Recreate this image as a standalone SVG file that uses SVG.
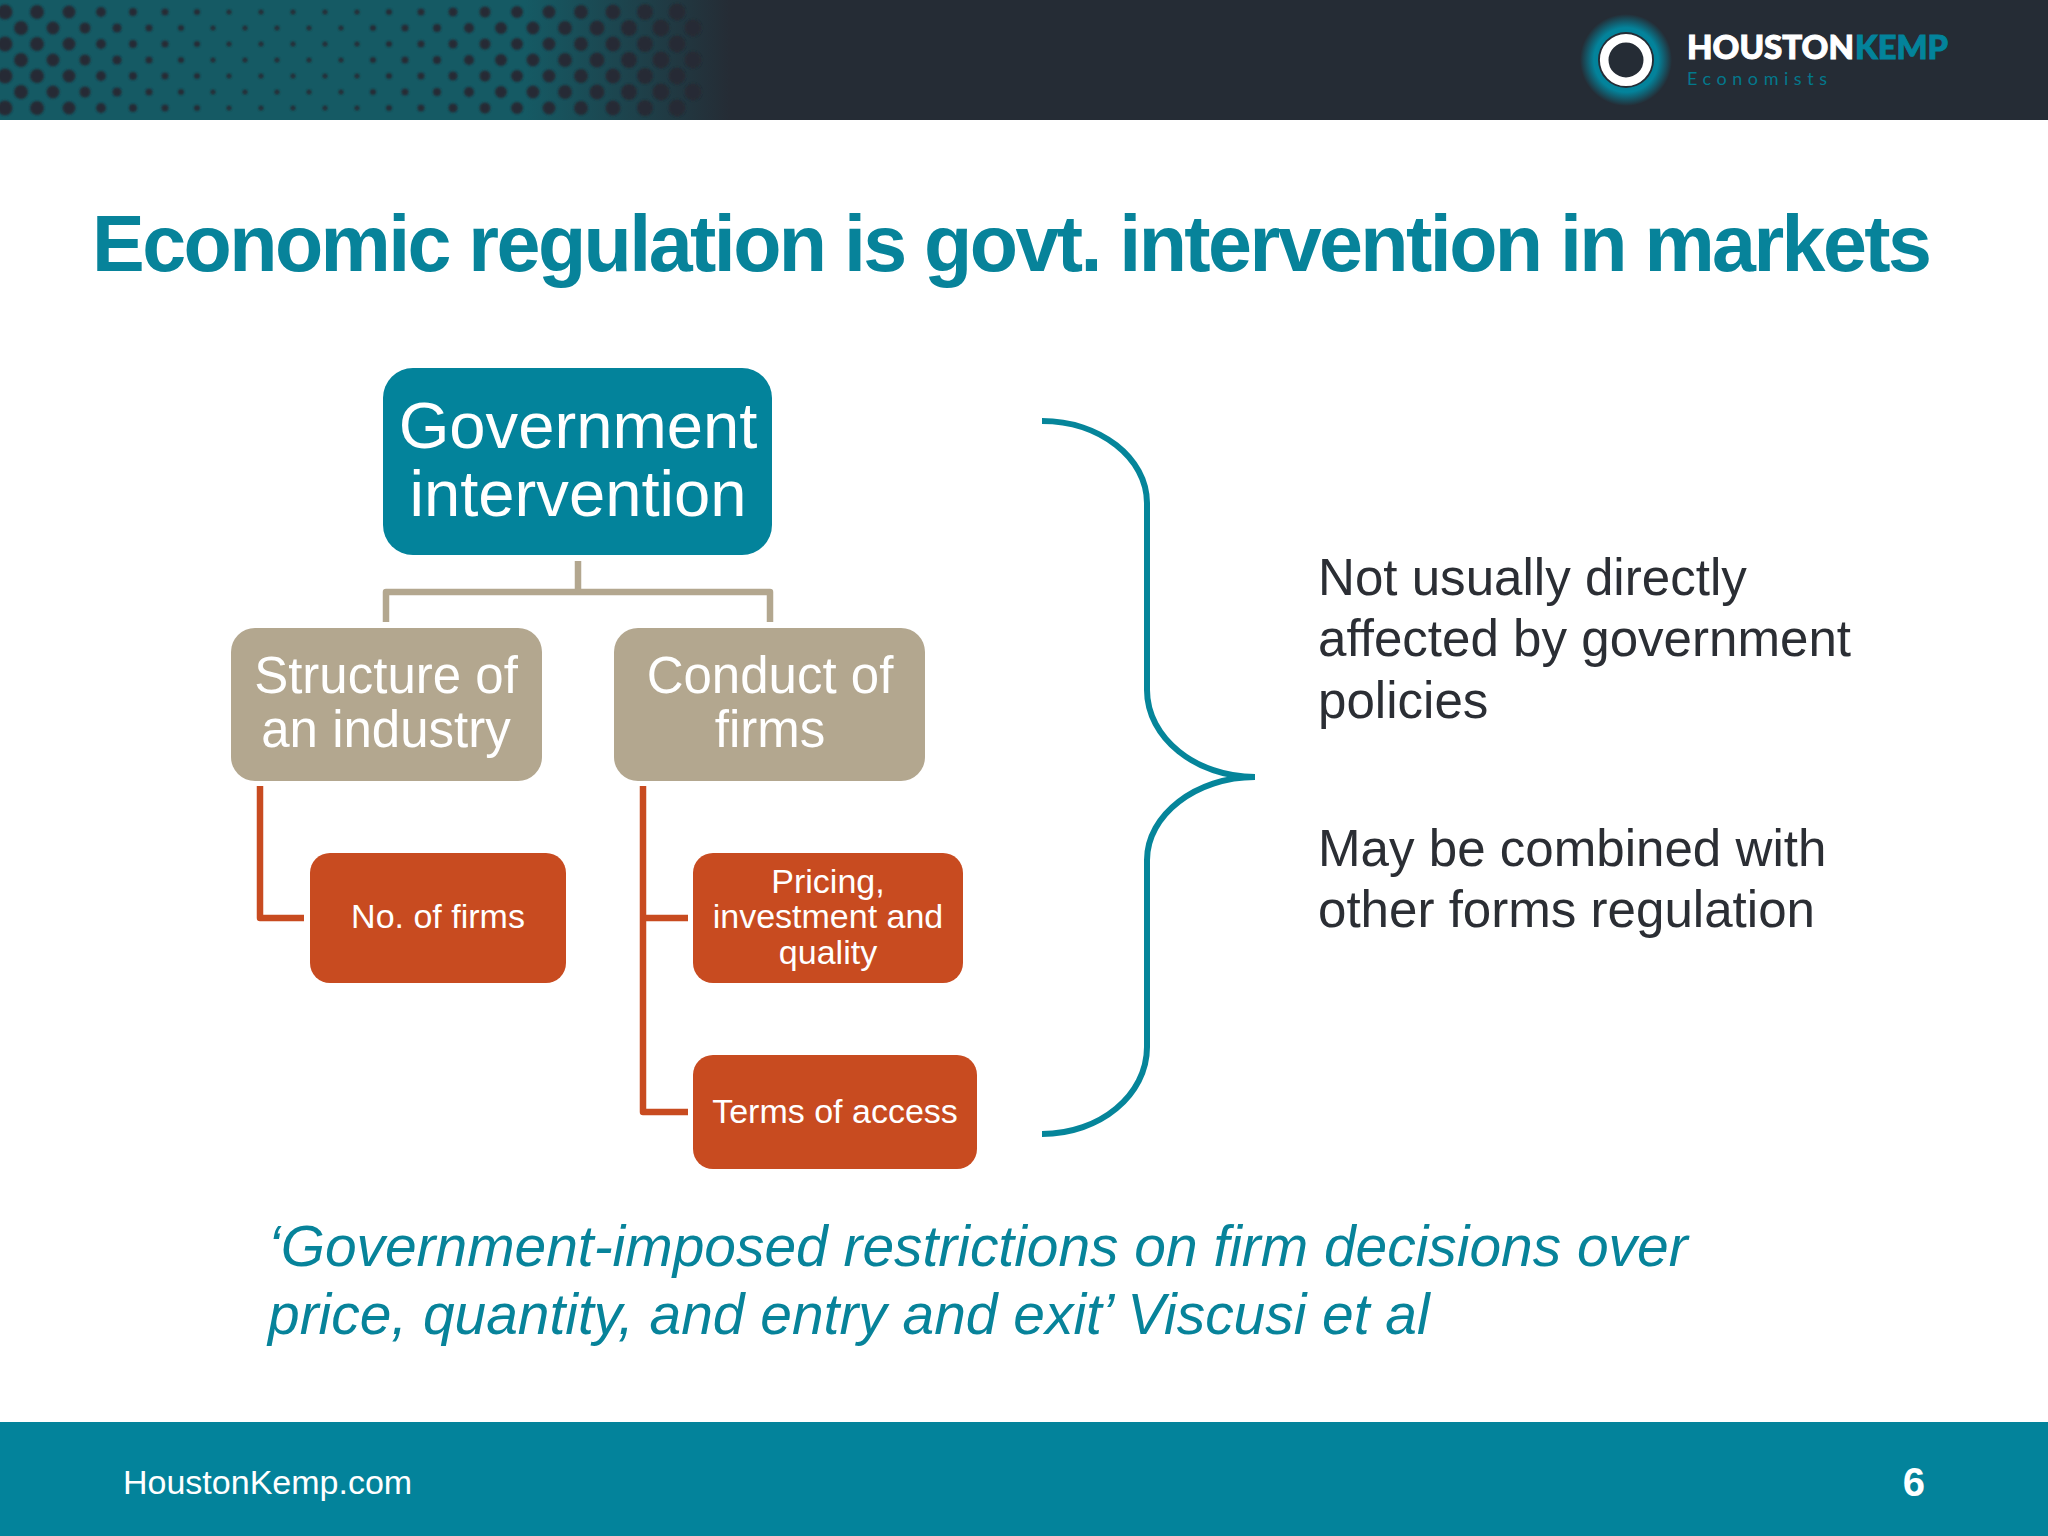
<svg xmlns="http://www.w3.org/2000/svg" width="2048" height="1536" viewBox="0 0 2048 1536">
<style>
text{font-family:"Liberation Sans",Arial,sans-serif}
.w{fill:#fff;text-anchor:middle}
.teal{fill:#03839b}
.tan{fill:#b3a78f}
.or{fill:#c84b20}
.dk{fill:#2b2e34;font-size:51.1px}
.q{fill:#07839a;font-size:56.9px;font-style:italic}
.d{stroke:#252c35;fill:none;stroke-linecap:round;stroke-dasharray:0 32}
.ct{fill:none;stroke:#b3a78f;stroke-width:6.5;stroke-linejoin:round}
.co{fill:none;stroke:#c84b20;stroke-width:6.5;stroke-linejoin:round}
</style>
<defs>
<linearGradient id="fade" x1="0" x2="1" y1="0" y2="0">
<stop offset="0" stop-color="#155a64"/><stop offset=".72" stop-color="#155a64"/><stop offset="1" stop-color="#155a64" stop-opacity="0"/>
</linearGradient>
<radialGradient id="halo">
<stop offset="0" stop-color="#03839b"/><stop offset=".7" stop-color="#03839b"/><stop offset="1" stop-color="#03839b" stop-opacity="0"/>
</radialGradient>
<filter id="soft" filterUnits="userSpaceOnUse" x="-20" y="-20" width="780" height="160"><feGaussianBlur stdDeviation="1.2"/></filter>
<clipPath id="band"><rect width="760" height="120"/></clipPath>
</defs>
<rect width="2048" height="1536" fill="#fff"/>
<g id="header">
<rect width="2048" height="120" fill="#252c35"/>
<rect width="730" height="120" fill="url(#fade)"/>
<g clip-path="url(#band)">
<g class="d" filter="url(#soft)">
<path stroke-width="15" d="M5 12V120"/><path stroke-width="14" d="M21 28V120"/><path stroke-width="14" d="M37 12V120"/><path stroke-width="13" d="M53 28V120"/>
<path stroke-width="13" d="M69 12V120"/><path stroke-width="11" d="M85 28V120"/><path stroke-width="10" d="M101 12V120"/><path stroke-width="9" d="M117 28V120"/>
<path stroke-width="8" d="M133 12V120"/><path stroke-width="7" d="M149 28V120"/><path stroke-width="7" d="M165 12V120"/><path stroke-width="6" d="M181 28V120"/>
<path stroke-width="6" d="M197 12V120"/><path stroke-width="5" d="M213 28V120"/><path stroke-width="5" d="M229 12V120"/><path stroke-width="5" d="M245 28V120"/>
<path stroke-width="5" d="M261 12V120"/><path stroke-width="5" d="M277 28V120"/><path stroke-width="5" d="M293 12V120"/><path stroke-width="5" d="M309 28V120"/>
<path stroke-width="5" d="M325 12V120"/><path stroke-width="5" d="M341 28V120"/><path stroke-width="5" d="M357 12V120"/><path stroke-width="6" d="M373 28V120"/>
<path stroke-width="6" d="M389 12V120"/><path stroke-width="7" d="M405 28V120"/><path stroke-width="7" d="M421 12V120"/><path stroke-width="8" d="M437 28V120"/>
<path stroke-width="9" d="M453 12V120"/><path stroke-width="10" d="M469 28V120"/><path stroke-width="11" d="M485 12V120"/><path stroke-width="12" d="M501 28V120"/>
<path stroke-width="12" d="M517 12V120"/><path stroke-width="13" d="M533 28V120"/><path stroke-width="13" d="M549 12V120"/><path stroke-width="14" d="M565 28V120"/>
<path stroke-width="14" d="M581 12V120"/><path stroke-width="15" d="M597 28V120"/><path stroke-width="15" d="M613 12V120"/><path stroke-width="16" d="M629 28V120"/>
<path stroke-width="16" d="M645 12V120"/><path stroke-width="17" d="M661 28V120"/><path stroke-width="17" d="M677 12V120"/><path stroke-width="17" d="M693 28V120"/>
</g>
</g>
</g>
<g id="logo">
<circle cx="1626" cy="60" r="46" fill="url(#halo)"/>
<circle cx="1626" cy="60" r="28" fill="#252c35"/>
<circle cx="1626" cy="60" r="21.8" fill="none" stroke="#fff" stroke-width="8.6"/>
<text x="1687" y="59" font-size="33" font-weight="900" fill="#fff" stroke="#fff" stroke-width="1" style="font-family:Lato,sans-serif" textLength="167" lengthAdjust="spacingAndGlyphs">HOUSTON</text>
<text x="1855" y="59" font-size="33" font-weight="900" fill="#03839b" stroke="#03839b" stroke-width="1" style="font-family:Lato,sans-serif" textLength="93" lengthAdjust="spacingAndGlyphs">KEMP</text>
<text x="1687" y="85" font-size="18" fill="#03788c" style="font-family:Lato,sans-serif" textLength="140">Economists</text>
</g>
<text id="title" x="92" y="271" font-size="79" font-weight="700" fill="#07839a" textLength="1840">Economic regulation is govt. intervention in markets</text>
<g id="connectors">
<path class="ct" d="M578 561V592"/>
<path class="ct" d="M386 622V592H770V622"/>
<path class="co" d="M260 786V918H304"/>
<path class="co" d="M643 786V1112H688"/>
<path class="co" d="M643 918H688"/>
<path id="brace" d="M1042 421C1100 421 1147 458 1147 503V690C1147 738 1196 777 1255 777C1196 777 1147 815 1147 860V1047C1147 1095 1100 1134 1042 1134" fill="none" stroke="#05859a" stroke-width="6"/>
</g>
<g id="n-gov"><rect class="teal" x="383" y="368" width="389" height="187" rx="30"/>
<text class="w" x="578" y="448" font-size="65.2">Government</text><text class="w" x="578" y="516" font-size="65.2">intervention</text></g>
<g id="n-structure"><rect class="tan" x="231" y="628" width="311" height="153" rx="24"/>
<text class="w" x="386" y="693" font-size="51">Structure of</text><text class="w" x="386" y="747" font-size="51">an industry</text></g>
<g id="n-conduct"><rect class="tan" x="614" y="628" width="311" height="153" rx="24"/>
<text class="w" x="770" y="693" font-size="51">Conduct of</text><text class="w" x="770" y="747" font-size="51">firms</text></g>
<g id="n-firms"><rect class="or" x="310" y="853" width="256" height="130" rx="20"/>
<text class="w" x="438" y="928" font-size="34">No. of firms</text></g>
<g id="n-pricing"><rect class="or" x="693" y="853" width="270" height="130" rx="20"/>
<text class="w" x="828" y="893" font-size="34">Pricing,</text><text class="w" x="828" y="928" font-size="34">investment and</text><text class="w" x="828" y="964" font-size="34">quality</text></g>
<g id="n-terms"><rect class="or" x="693" y="1055" width="284" height="114" rx="20"/>
<text class="w" x="835" y="1123" font-size="34">Terms of access</text></g>
<g id="notes">
<text class="dk" x="1318" y="595">Not usually directly</text>
<text class="dk" x="1318" y="656">affected by government</text>
<text class="dk" x="1318" y="718">policies</text>
<text class="dk" x="1318" y="866">May be combined with</text>
<text class="dk" x="1318" y="927">other forms regulation</text>
</g>
<g id="quote">
<text class="q" x="268" y="1266">‘Government-imposed restrictions on firm decisions over</text>
<text class="q" x="268" y="1334">price, quantity, and entry and exit’ Viscusi et al</text>
</g>
<g id="footer">
<rect y="1422" width="2048" height="114" fill="#03839b"/>
<text x="123" y="1494" font-size="34" fill="#fff">HoustonKemp.com</text>
<text x="1925" y="1496" font-size="40" font-weight="700" fill="#fff" text-anchor="end">6</text>
</g>
</svg>
